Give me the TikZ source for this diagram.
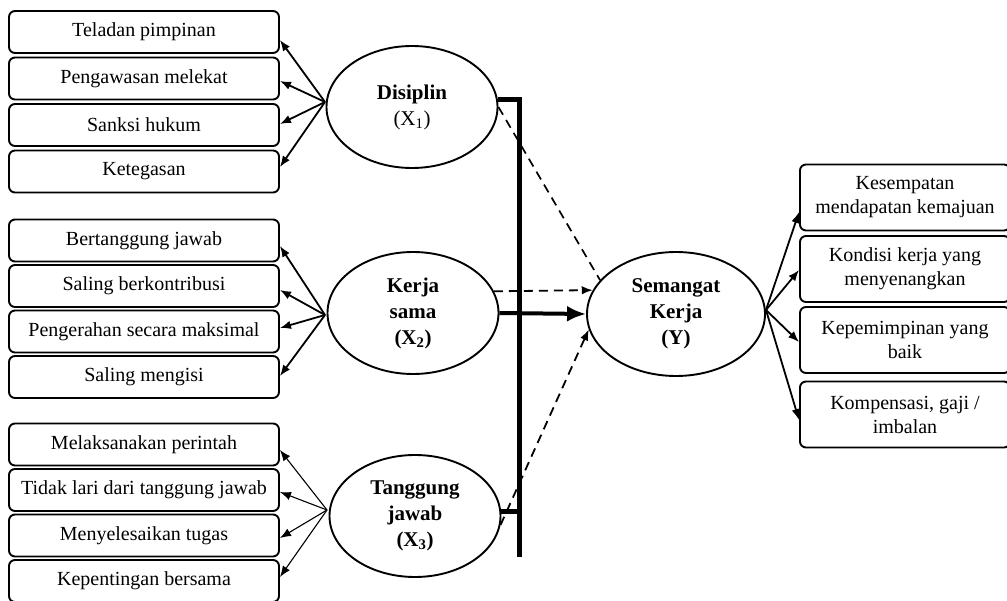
\documentclass[tikz,border=0pt]{standalone}
\usepackage{fontspec}
\setmainfont{Liberation Serif}
\usepackage{tikz}
\usepackage{xcolor}
\usetikzlibrary{shapes.geometric,arrows.meta}

\begin{document}
\begin{tikzpicture}[x=1pt,y=-1pt]
    \tikzstyle{B}=[rectangle,rounded corners=6pt,draw,line width=1.9pt,minimum width=270pt,minimum height=42pt,inner sep=2pt,font=\fontsize{20}{24}\selectfont]
    \tikzstyle{R}=[B,minimum width=210pt,minimum height=66pt,align=center]
    \tikzstyle{E}=[ellipse,draw,line width=1.9pt,minimum width=171pt,minimum height=122pt,inner sep=0pt,align=center,font=\fontsize{21}{26}\selectfont\bfseries]
    \tikzstyle{A}=[-{Latex[length=11pt,width=8.5pt]},line width=1.8pt]
    \tikzstyle{D}=[dash pattern=on 9pt off 6pt,line width=1.7pt]

    \useasboundingbox (0,0) rectangle (1007,601);

    % Disiplin (X1)
    \node [E] (d) at (412,107) {Disiplin\\{\mdseries(X\textsubscript{1})}};
    \node [B] (d1) at (144,32) {Teladan pimpinan};
    \node [B] (d2) at (144,78.5) {Pengawasan melekat};
    \node [B] (d3) at (144,125) {Sanksi hukum};
    \node [B] (d4) at (144,171.5) {Ketegasan};
    \coordinate (dl) at (325,102);
    \draw [A] (dl) -- ([yshift=-8pt]d1.east);
    \draw [A] (dl) -- ([yshift=-2.5pt]d2.east);
    \draw [A] (dl) -- ([yshift=1pt]d3.east);
    \draw [A] (dl) -- ([yshift=4.5pt]d4.east);

    % Kerja sama (X2)
    \node [E] (k) at (413,313) {Kerja\\sama\\(X\textsubscript{2})};
    \node [B] (k1) at (144,240.5) {Bertanggung jawab};
    \node [B] (k2) at (144,286) {Saling berkontribusi};
    \node [B] (k3) at (144,331.5) {Pengerahan secara maksimal};
    \node [B] (k4) at (144,377) {Saling mengisi};
    \coordinate (kl) at (325,315);
    \draw [A] (kl) -- ([yshift=-5.5pt]k1.east);
    \draw [A] (kl) -- ([yshift=-4pt]k2.east);
    \draw [A] (kl) -- ([yshift=3.5pt]k3.east);
    \draw [A] (kl) -- ([yshift=1pt]k4.east);

    % Tanggung jawab (X3)
    \node [E] (t) at (415,516) {Tanggung\\jawab\\(X\textsubscript{3})};
    \node [B] (t1) at (144,444.5) {Melaksanakan perintah};
    \node [B] (t2) at (144,490) {Tidak lari dari tanggung jawab};
    \node [B] (t3) at (144,535.5) {Menyelesaikan tugas};
    \node [B] (t4) at (144,581) {Kepentingan bersama};
    \coordinate (tl) at (327,510);
    \draw [A,line width=1.1pt] (tl) -- ([yshift=-5.5pt]t1.east);
    \draw [A,line width=1.1pt] (tl) -- ([yshift=-2pt]t2.east);
    \draw [A,line width=1.1pt] (tl) -- ([yshift=-2.5pt]t3.east);
    \draw [A,line width=1.1pt] (tl) -- ([yshift=4pt]t4.east);

    % Semangat Kerja (Y)
    \node [E,minimum width=178pt,minimum height=124pt] (s) at (676,314) {Semangat\\Kerja\\(Y)};
    \node [R] (s1) at (905,197.5) {Kesempatan\\mendapatan kemajuan};
    \node [R] (s2) at (905,269) {Kondisi kerja yang\\menyenangkan};
    \node [R] (s3) at (905,340) {Kepemimpinan yang\\baik};
    \node [R] (s4) at (905,414.5) {Kompensasi, gaji /\\imbalan};
    \coordinate (sr) at (766,310);
    \draw [A] (sr) -- ([yshift=-14.5pt]s1.west);
    \draw [A] (sr) -- ([yshift=-1pt]s2.west);
    \draw [A] (sr) -- ([yshift=-2pt]s3.west);
    \draw [A] (sr) -- ([yshift=-5.5pt]s4.west);

    % Garis tebal
    \coordinate (bb) at (519,557);
    \draw [line width=5pt] (d.5) -- (d.5 -| bb) -- (bb);
    \draw [line width=5pt] (t.3) -- (t.3 -| bb);
    \draw [line width=4pt,-{Latex[length=19pt,width=16pt]}] (k.east) -- (s.west);

    % Garis putus-putus
    \draw [D] (d.east) -- (s.156);
    \draw [D,A] (k.15) -- (s.164);
    \draw [D,A] (t.-6) -- (s.190);
\end{tikzpicture}
\end{document}
